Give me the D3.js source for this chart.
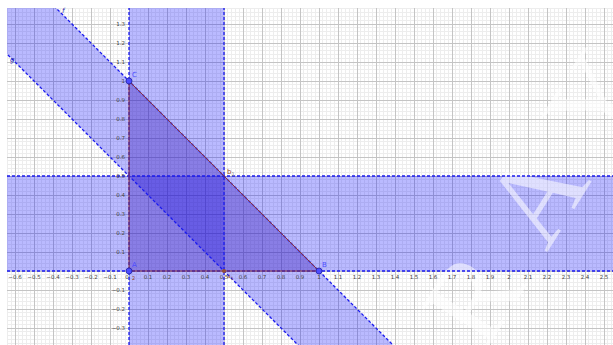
<!DOCTYPE html>
<html><head><meta charset="utf-8">
<script src="https://cdn.jsdelivr.net/npm/d3@7"></script>
<style>body{margin:0;background:#fff}svg{display:block}</style></head>
<body>
<script>
// ---- data ----
const xTicks = [-0.6,-0.5,-0.4,-0.3,-0.2,-0.1,0,0.1,0.2,0.3,0.4,0.5,0.6,0.7,0.8,0.9,1,1.1,1.2,1.3,1.4,1.5,1.6,1.7,1.8,1.9,2,2.1,2.2,2.3,2.4,2.5];
const yTicks = [-0.3,-0.2,-0.1,0.1,0.2,0.3,0.4,0.5,0.6,0.7,0.8,0.9,1,1.1,1.2,1.3];
const verticalBand = [0, 0.5];     // 0 <= x <= 0.5
const horizontalBand = [0, 0.5];   // 0 <= y <= 0.5
const diagonalBand = [0.5, 1];     // 0.5 <= x + y <= 1
const triangle = [[0,0],[1,0],[0,1]];
const points = [{label:"A",x:0,y:0},{label:"B",x:1,y:0},{label:"C",x:0,y:1}];
const lineLabels = [{label:"f",c:1},{label:"g",c:0.5}];

const W = 613, H = 345;
const panel = {x0:7, y0:8, x1:613, y1:345};
const x = d3.scaleLinear().domain([-0.6, 2.5]).range([15, 604]);
const y = d3.scaleLinear().domain([0, 1]).range([271, 81]);
const xmin = x.invert(panel.x0), xmax = x.invert(panel.x1);
const ymin = y.invert(panel.y1), ymax = y.invert(panel.y0);

const svg = d3.select("body").append("svg").attr("width", W).attr("height", H);
svg.append("defs").append("clipPath").attr("id","clip")
  .append("rect").attr("x",panel.x0).attr("y",panel.y0)
  .attr("width",panel.x1-panel.x0).attr("height",panel.y1-panel.y0);
const g = svg.append("g").attr("clip-path","url(#clip)");

// grid
const minor = [], major = [];
for (let i = Math.ceil(xmin*50); i <= Math.floor(xmax*50); i++) (i%5===0?major:minor).push({d:"x",v:i/50});
for (let i = Math.ceil(ymin*50); i <= Math.floor(ymax*50); i++) (i%5===0?major:minor).push({d:"y",v:i/50});
function gridLines(arr, color, w){
  g.append("g").selectAll("line").data(arr).join("line")
    .attr("x1", d => d.d==="x" ? x(d.v) : panel.x0)
    .attr("x2", d => d.d==="x" ? x(d.v) : panel.x1)
    .attr("y1", d => d.d==="y" ? y(d.v) : panel.y0)
    .attr("y2", d => d.d==="y" ? y(d.v) : panel.y1)
    .attr("stroke", color).attr("stroke-width", w).attr("shape-rendering","crispEdges");
}
gridLines(minor, "#ededed", 1);
gridLines(major, "#c4c4c4", 1);

const line = d3.line().x(d => x(d[0])).y(d => y(d[1]));
const bandFill = "#0000ff", bandOpacity = 0.27;

// vertical band
g.append("path").attr("d", line([[verticalBand[0],ymin-1],[verticalBand[1],ymin-1],[verticalBand[1],ymax+1],[verticalBand[0],ymax+1]]))
  .attr("fill", bandFill).attr("fill-opacity", bandOpacity);
// horizontal band
g.append("path").attr("d", line([[xmin-1,horizontalBand[0]],[xmax+1,horizontalBand[0]],[xmax+1,horizontalBand[1]],[xmin-1,horizontalBand[1]]]))
  .attr("fill", bandFill).attr("fill-opacity", bandOpacity);
// diagonal band
const xa = xmin-1, xb = xmax+1, [lo, hi] = diagonalBand;
g.append("path").attr("d", line([[xa,hi-xa],[xb,hi-xb],[xb,lo-xb],[xa,lo-xa]]))
  .attr("fill", bandFill).attr("fill-opacity", bandOpacity);

// triangle
g.append("path").attr("d", line(triangle)+"Z")
  .attr("fill", "rgb(153,51,0)").attr("fill-opacity", 0.1);

// watermark
g.append("text").attr("transform","translate(485,352) rotate(-58)")
  .attr("font-family","Liberation Serif, serif").attr("font-size",118)
  .attr("letter-spacing", 38)
  .attr("fill","#ffffff").attr("fill-opacity",0.55).text("RAY");

// dashed boundary lines
const dashStyle = sel => sel.attr("stroke","#1a1aee").attr("stroke-width",1.3).attr("stroke-dasharray","3,2").attr("fill","none");
verticalBand.forEach(v => dashStyle(g.append("path").attr("d", line([[v,ymin-1],[v,ymax+1]]))));
horizontalBand.forEach(v => dashStyle(g.append("path").attr("d", line([[xmin-1,v],[xmax+1,v]]))));
diagonalBand.forEach(c => dashStyle(g.append("path").attr("d", line([[xa,c-xa],[xb,c-xb]]))));

// triangle edges
g.append("path").attr("d", line(triangle)+"Z")
  .attr("fill","none").attr("stroke","rgb(140,50,60)").attr("stroke-width",1);

// tick labels
const tickFont = "DejaVu Sans, sans-serif";
svg.append("g").selectAll("text").data(xTicks).join("text")
  .attr("x", d => x(d) - (d===0 ? 2 : 0)).attr("y", 278.5)
  .attr("text-anchor","middle").attr("font-family",tickFont).attr("font-size",5.5)
  .attr("fill","#444").text(d => d===0 ? "0" : d3.format("")(d).replace("-","\u2212"));
svg.append("g").selectAll("text").data(yTicks).join("text")
  .attr("x", 125).attr("y", d => y(d)+2)
  .attr("text-anchor","end").attr("font-family",tickFont).attr("font-size",5.5)
  .attr("fill","#444").text(d => d3.format("")(d).replace("-","\u2212"));

// line labels
lineLabels.forEach(l => {
  const px = l.c===1 ? 62 : 10;
  const py = l.c===1 ? 13 : 62;
  svg.append("text").attr("x",px).attr("y",py).attr("font-family",tickFont)
    .attr("font-size",7).attr("font-style","italic").attr("fill","#2a2aaa").text(l.label);
});

// extra labels
svg.append("text").attr("x",227).attr("y",174).attr("font-family",tickFont).attr("font-size",7)
  .attr("fill","rgb(150,70,40)").html('b<tspan font-size="5" dy="2" fill="#888">1</tspan>');
svg.append("text").attr("x",227).attr("y",278).attr("font-family",tickFont).attr("font-size",6)
  .attr("fill","rgb(150,70,40)").html('a<tspan font-size="4.5" dy="2">1</tspan>');
svg.append("text").attr("x",132).attr("y",280).attr("font-family",tickFont).attr("font-size",5)
  .attr("fill","rgb(150,70,40)").text("2");
svg.append("circle").attr("cx",x(0.5)).attr("cy",y(0)).attr("r",2)
  .attr("fill","rgb(150,80,50)");

// points
svg.append("g").selectAll("circle").data(points).join("circle")
  .attr("cx", d => x(d.x)).attr("cy", d => y(d.y)).attr("r", 3)
  .attr("fill","#4d4dff").attr("stroke","#1a1a99").attr("stroke-width",0.7);
svg.append("g").selectAll("text").data(points).join("text")
  .attr("x", d => x(d.x)+3).attr("y", d => y(d.y)-4)
  .attr("font-family",tickFont).attr("font-size",7).attr("fill","#4d4dff")
  .text(d => d.label);
</script>
</body></html>
